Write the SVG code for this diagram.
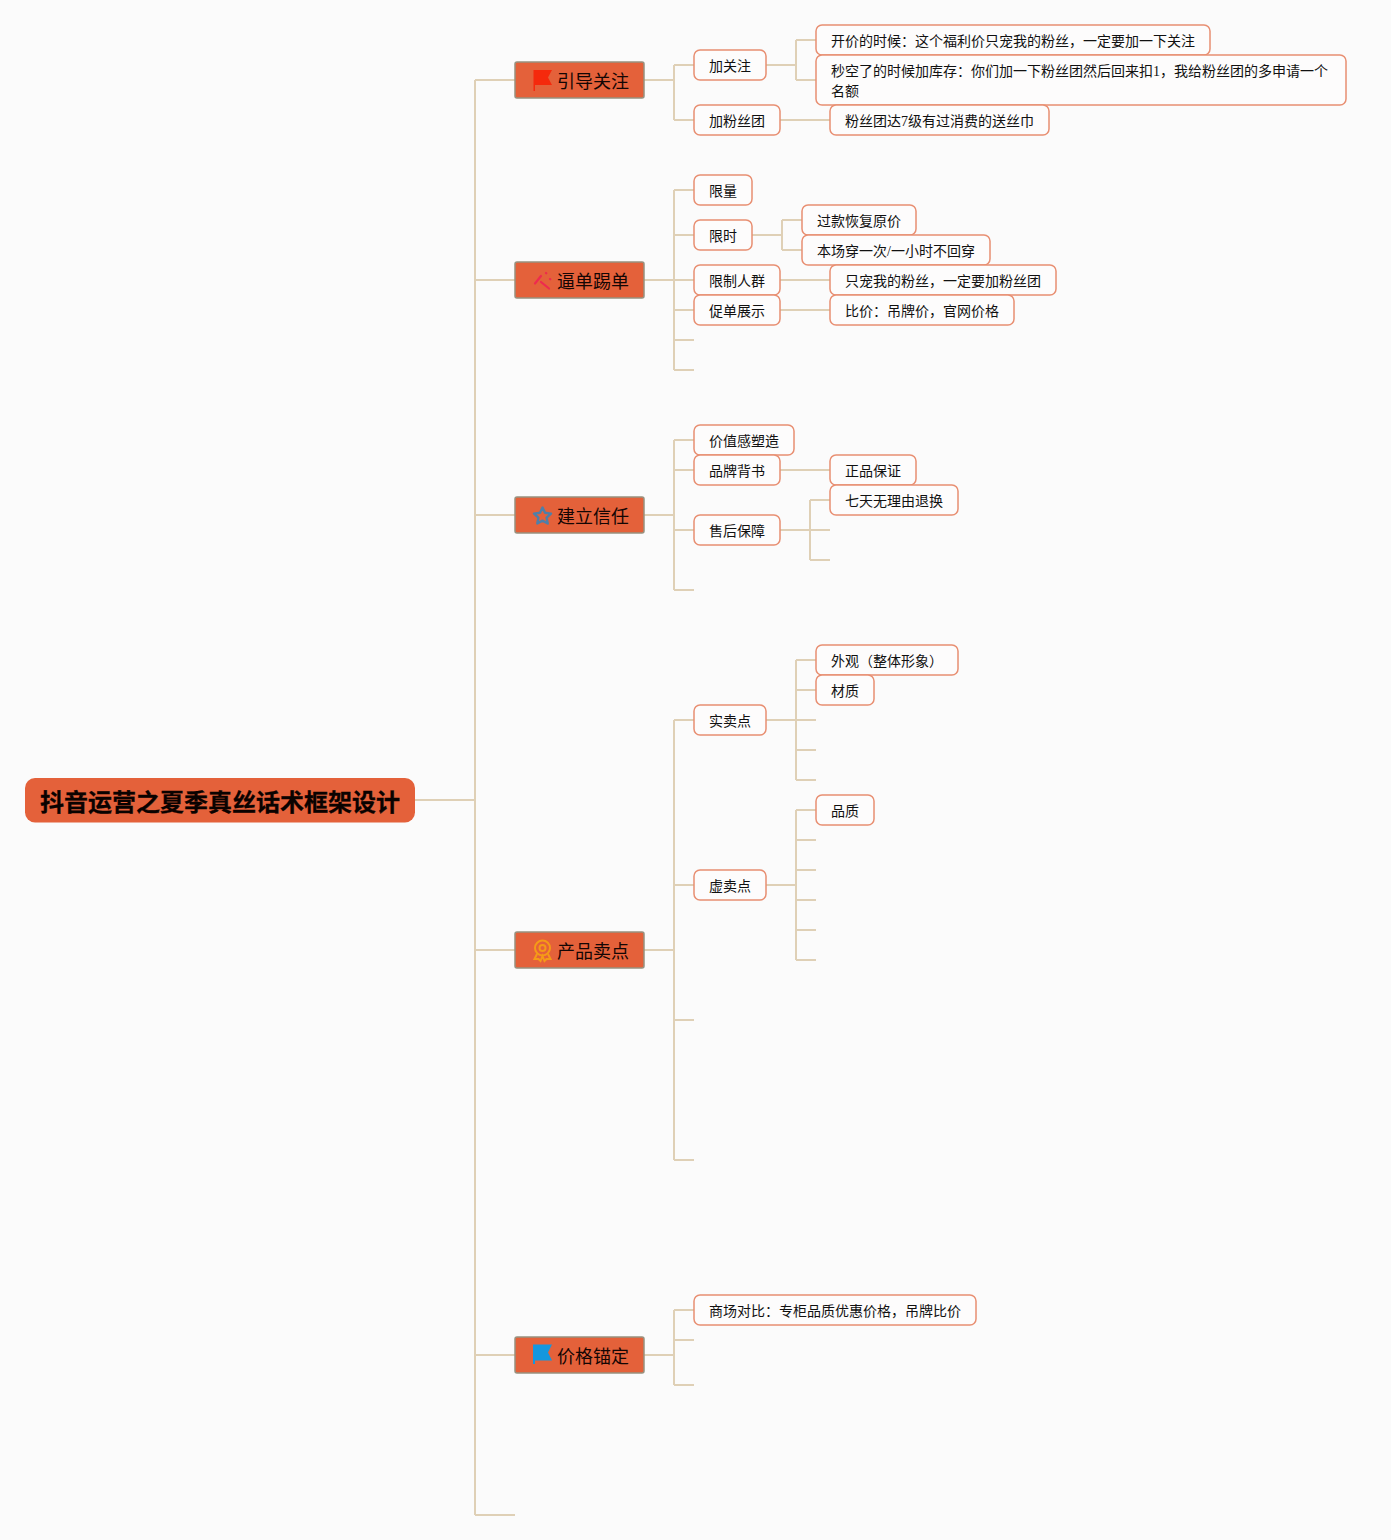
<svg xmlns="http://www.w3.org/2000/svg" width="1391" height="1540" viewBox="0 0 1391 1540">
<style>
text{font-family:"Liberation Serif","Noto Sans CJK SC",serif;fill:#111}
.c{fill:none;stroke:#dfd0b6;stroke-width:2}
.n rect{fill:#fdfcfc;stroke:#e88f72;stroke-width:1.5}
.n text{font-size:14px}
.t rect{fill:#e4613a;stroke:#98917f;stroke-width:1.5}
.t text{font-size:18px;fill:#140604}
.r rect{fill:#e4613a}
.r text{font-size:24px;font-weight:700;fill:#0a0200;stroke:#0a0200;stroke-width:.3}
</style>
<rect width="1391" height="1540" fill="#fbfbfb"/>
<g id="connectors" class="c">
<path d="M415 800H475M475 80V1515M475 80H515M475 280H515M475 515H515M475 950H515M475 1355H515M475 1515H515"/>
<path d="M644 80H674M674 65V120M674 65H694M674 120H694M766 65H796M796 40V80M796 40H816M796 80H816M780 120H830"/>
<path d="M644 280H674M674 190V370M674 190H694M674 235H694M674 280H694M674 310H694M674 340H694M674 370H694M752 235H782M782 220V250M782 220H802M782 250H802M780 280H830M780 310H830"/>
<path d="M644 515H674M674 440V590M674 440H694M674 470H694M674 530H694M674 590H694M780 470H830M780 530H810M810 500V560M810 500H830M810 530H830M810 560H830"/>
<path d="M644 950H674M674 720V1160M674 720H694M674 885H694M674 1020H694M674 1160H694M766 720H796M796 660V780M796 660H816M796 690H816M796 720H816M796 750H816M796 780H816M766 885H796M796 810V960M796 810H816M796 840H816M796 870H816M796 900H816M796 930H816M796 960H816"/>
<path d="M644 1355H674M674 1310V1385M674 1310H694M674 1340H694M674 1385H694"/>
</g>
<g id="root" class="r"><rect x="25" y="778" width="390" height="44.500" rx="10"/><text x="40" y="811">抖音运营之夏季真丝话术框架设计</text></g>

<g id="t1" class="t"><rect x="515" y="62" width="129" height="36" rx="2"/><path d="M533.500 70H552L548 77.500L552 85H535V91H533.500Z" fill="#f5290c"/><text x="557" y="87.500">引导关注</text></g>
<g id="t2" class="t"><rect x="515" y="262" width="129" height="36" rx="2"/><g fill="none" stroke="#ee2a4f" stroke-width="2.200" stroke-linecap="round"><path d="M541 276L535 283.500"/><path d="M541 282L549 288.500"/><path d="M546 273L546.300 273.300"/><path d="M550 279L550.300 279.300"/></g><text x="557" y="287.500">逼单踢单</text></g>
<g id="t3" class="t"><rect x="515" y="497" width="129" height="36" rx="2"/><path d="M542.500 507.500L545 512.800L551 513.600L546.600 517.700L547.700 523.500L542.500 520.600L537.300 523.500L538.400 517.700L534 513.600L540 512.800Z" fill="none" stroke="#4f7fa8" stroke-width="2.400" stroke-linejoin="round"/><text x="557" y="522.500">建立信任</text></g>
<g id="t4" class="t"><rect x="515" y="932" width="129" height="36" rx="2"/><g fill="none" stroke="#f59a17" stroke-width="2"><circle cx="542.500" cy="948" r="7.500"/><circle cx="542.500" cy="948" r="3"/><path d="M537 954L534.500 959L538.500 959L540.500 961L542.500 956L544.500 961L546.500 959L550.500 959L548 954"/></g><text x="557" y="957.500">产品卖点</text></g>
<g id="t5" class="t"><rect x="515" y="1337" width="129" height="36" rx="2"/><path d="M533 1344.500H552L548 1352.500L552 1360.500H535V1364H533Z" fill="#1497de"/><text x="557" y="1362.500">价格锚定</text></g>

<g id="n1" class="n"><rect x="694" y="50" width="72" height="30" rx="6"/><text x="709" y="71">加关注</text></g>
<g id="n2" class="n"><rect x="694" y="105" width="86" height="30" rx="6"/><text x="709" y="126">加粉丝团</text></g>
<g id="n3" class="n"><rect x="816" y="25" width="394" height="30" rx="6"/><text x="831" y="46">开价的时候：这个福利价只宠我的粉丝，一定要加一下关注</text></g>
<g id="n4" class="n"><rect x="816" y="55" width="530" height="50" rx="6"/><text x="831" y="76">秒空了的时候加库存：你们加一下粉丝团然后回来扣1，我给粉丝团的多申请一个</text><text x="831" y="96">名额</text></g>
<g id="n5" class="n"><rect x="830" y="105" width="219" height="30" rx="6"/><text x="845" y="126">粉丝团达7级有过消费的送丝巾</text></g>

<g id="n6" class="n"><rect x="694" y="175" width="58" height="30" rx="6"/><text x="709" y="196">限量</text></g>
<g id="n7" class="n"><rect x="694" y="220" width="58" height="30" rx="6"/><text x="709" y="241">限时</text></g>
<g id="n8" class="n"><rect x="694" y="265" width="86" height="30" rx="6"/><text x="709" y="286">限制人群</text></g>
<g id="n9" class="n"><rect x="694" y="295" width="86" height="30" rx="6"/><text x="709" y="316">促单展示</text></g>
<g id="n10" class="n"><rect x="802" y="205" width="114" height="30" rx="6"/><text x="817" y="226">过款恢复原价</text></g>
<g id="n11" class="n"><rect x="802" y="235" width="188" height="30" rx="6"/><text x="817" y="256">本场穿一次/一小时不回穿</text></g>
<g id="n12" class="n"><rect x="830" y="265" width="226" height="30" rx="6"/><text x="845" y="286">只宠我的粉丝，一定要加粉丝团</text></g>
<g id="n13" class="n"><rect x="830" y="295" width="184" height="30" rx="6"/><text x="845" y="316">比价：吊牌价，官网价格</text></g>

<g id="n14" class="n"><rect x="694" y="425" width="100" height="30" rx="6"/><text x="709" y="446">价值感塑造</text></g>
<g id="n15" class="n"><rect x="694" y="455" width="86" height="30" rx="6"/><text x="709" y="476">品牌背书</text></g>
<g id="n16" class="n"><rect x="694" y="515" width="86" height="30" rx="6"/><text x="709" y="536">售后保障</text></g>
<g id="n17" class="n"><rect x="830" y="455" width="86" height="30" rx="6"/><text x="845" y="476">正品保证</text></g>
<g id="n18" class="n"><rect x="830" y="485" width="128" height="30" rx="6"/><text x="845" y="506">七天无理由退换</text></g>

<g id="n19" class="n"><rect x="694" y="705" width="72" height="30" rx="6"/><text x="709" y="726">实卖点</text></g>
<g id="n20" class="n"><rect x="694" y="870" width="72" height="30" rx="6"/><text x="709" y="891">虚卖点</text></g>
<g id="n21" class="n"><rect x="816" y="645" width="142" height="30" rx="6"/><text x="831" y="666">外观（整体形象）</text></g>
<g id="n22" class="n"><rect x="816" y="675" width="58" height="30" rx="6"/><text x="831" y="696">材质</text></g>
<g id="n23" class="n"><rect x="816" y="795" width="58" height="30" rx="6"/><text x="831" y="816">品质</text></g>
<g id="n24" class="n"><rect x="694" y="1295" width="282" height="30" rx="6"/><text x="709" y="1316">商场对比：专柜品质优惠价格，吊牌比价</text></g>
</svg>
